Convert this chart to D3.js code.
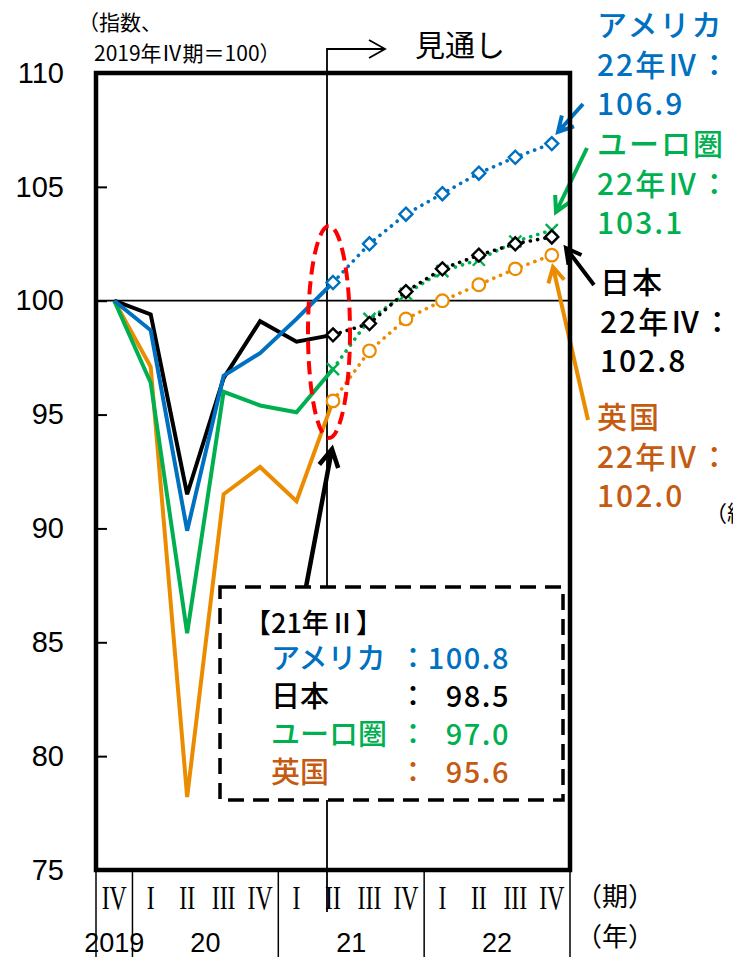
<!DOCTYPE html>
<html><head><meta charset="utf-8">
<script src="https://cdn.jsdelivr.net/npm/d3@7"></script>
<style>body{margin:0;background:#fff;overflow:hidden} svg{display:block}</style>
</head><body><svg id="c" width="733" height="957"></svg>
<script>
// ---- data ----
const quarters = ["2019Q4","2020Q1","2020Q2","2020Q3","2020Q4","2021Q1","2021Q2","2021Q3","2021Q4","2022Q1","2022Q2","2022Q3","2022Q4"];
const quarterLabels = ["IV","I","II","III","IV","I","II","III","IV","I","II","III","IV"];
const yearLabels = ["2019","20","21","22"];
const yearFirstQ = ["2019Q4","2020Q1","2021Q1","2022Q1"];
const yearLastQ  = ["2019Q4","2020Q4","2021Q4","2022Q4"];
const yTicks = [75,80,85,90,95,100,105,110];
const usa   = [100, 98.7, 89.9, 96.7, 97.7, 99.2, 100.8, 102.5, 103.8, 104.7, 105.6, 106.3, 106.9];
const japan = [100, 99.4, 91.5, 96.6, 99.1, 98.2,  98.5,  99.0, 100.4, 101.4, 102.0, 102.5, 102.8];
const euro  = [100, 96.4, 85.4, 96.0, 95.4, 95.1,  97.0,  99.2, 100.3, 101.3, 101.8, 102.6, 103.1];
const uk    = [100, 97.1, 78.2, 91.5, 92.7, 91.2,  95.6,  97.8,  99.2, 100.0, 100.7, 101.4, 102.0];
const forecastFrom = "2021Q2";
const boxTitle = "【21年Ⅱ】";
const seriesNames = ["アメリカ","日本","ユーロ圏","英国"];
const boxValues = ["100.8","98.5","97.0","95.6"];
const endLabels = [["アメリカ","22年Ⅳ：","106.9"],["ユーロ圏","22年Ⅳ：","103.1"],["日本","22年Ⅳ：","102.8"],["英国","22年Ⅳ：","102.0"]];

const C = {blue:"#0070C0", black:"#000000", green:"#00B050", orange:"#EB8C00", orangeText:"#C55A11"};
const JP = "'Noto Sans CJK JP','Noto Sans',sans-serif";

const svg = d3.select("#c");
const L=96, R=570, T=73, B=870;
const x = d3.scaleBand().domain(quarters).range([L,R]).padding(0);
const cx = q => x(q) + x.bandwidth()/2;
const y = d3.scaleLinear().domain([75,110]).range([B,T]);
const fi = quarters.indexOf(forecastFrom);

// baseline 100
svg.append("line").attr("x1",L).attr("x2",R).attr("y1",y(100)).attr("y2",y(100)).attr("stroke","#000").attr("stroke-width",1.8);

// y axis ticks + labels
const yAxis = d3.axisLeft(y).tickValues(yTicks).tickSize(-11).tickPadding(32).tickFormat(d3.format("d"));
const ya = svg.append("g").attr("transform",`translate(${L},0)`).call(yAxis);
ya.select(".domain").remove();
ya.selectAll(".tick line").attr("stroke","#000").attr("stroke-width",2);
ya.selectAll(".tick text").attr("font-family","'Liberation Sans',Arial,sans-serif").attr("font-size",29).attr("fill","#000");

// vertical forecast line with arrow
const vx = cx(forecastFrom) - 6;
svg.append("path").attr("d",`M${vx},912 V49 H385 M369,40 L385,49 L369,58`).attr("fill","none").attr("stroke","#000").attr("stroke-width",1.8);
svg.append("text").attr("x",415).attr("y",56).attr("font-family",JP).attr("font-size",30).text("見通し");

// header
svg.append("text").attr("x",78).attr("y",30).attr("font-family",JP).attr("font-size",21).text("（指数、");
svg.append("text").attr("x",94).attr("y",61).attr("font-family",JP).attr("font-size",21).text("2019年Ⅳ期＝100）");

const series = [
  {name:"uk", v:uk, c:C.orange, m:"circle"},
  {name:"euro", v:euro, c:C.green, m:"x"},
  {name:"japan", v:japan, c:C.black, m:"diamond"},
  {name:"usa", v:usa, c:C.blue, m:"diamond"}
];
const line = d3.line().x(d=>d.x).y(d=>d.y);
function pts(s, a, b){ return quarters.slice(a,b).map((q,k)=>({x:cx(q), y:y(s.v[a+k])})); }

// solid actual lines
series.forEach(s=>{
  svg.append("path").attr("d",line(pts(s,0,fi+1))).attr("fill","none").attr("stroke",s.c).attr("stroke-width",4).attr("stroke-linejoin","miter");
});
// dotted forecast lines & markers
const fOrder = [series[0], series[3], series[1], series[2]];
fOrder.forEach(s=>{
  svg.append("path").attr("d",line(pts(s,fi,quarters.length))).attr("fill","none").attr("stroke",s.c).attr("stroke-width",3.6).attr("stroke-linecap","round").attr("stroke-dasharray","0.1 7.3");
});
fOrder.forEach(s=>{
  const g = svg.append("g");
  pts(s,fi,quarters.length).forEach(p=>{
    if(s.m==="circle") g.append("circle").attr("cx",p.x).attr("cy",p.y).attr("r",6.3).attr("fill","#fff").attr("stroke",s.c).attr("stroke-width",2.2);
    else if(s.m==="diamond") g.append("path").attr("d",`M${p.x},${p.y-6.5} L${p.x+6.5},${p.y} L${p.x},${p.y+6.5} L${p.x-6.5},${p.y} Z`).attr("fill","#fff").attr("stroke",s.c).attr("stroke-width",2.4);
    else g.append("path").attr("d",`M${p.x-6},${p.y-6} L${p.x+6},${p.y+6} M${p.x-6},${p.y+6} L${p.x+6},${p.y-6}`).attr("stroke",s.c).attr("stroke-width",2.4);
  });
});

// red dashed ellipse
svg.append("ellipse").attr("cx",329).attr("cy",332).attr("rx",21).attr("ry",106).attr("fill","none").attr("stroke","#FF0000").attr("stroke-width",4).attr("stroke-dasharray","13 7");

// arrows
function arrow(x1,y1,x2,y2,col,w,h){
  const a = Math.atan2(y2-y1,x2-x1), s=0.5;
  const p1=[x2-h*Math.cos(a-s), y2-h*Math.sin(a-s)], p2=[x2-h*Math.cos(a+s), y2-h*Math.sin(a+s)];
  svg.append("path").attr("d",`M${x1},${y1} L${x2},${y2} M${p1} L${x2},${y2} L${p2}`).attr("fill","none").attr("stroke",col).attr("stroke-width",w).attr("stroke-linecap","butt");
}
arrow(306,587,332,449,"#000",4.5,20);
arrow(583,104,558,132,C.blue,4,17);
arrow(587,148,556,212,C.green,4,17);
arrow(594,285,566,248,"#000",4,17);
arrow(588,420,553,267,C.orange,4,17);

// frame
svg.append("rect").attr("x",L).attr("y",T).attr("width",R-L).attr("height",B-T).attr("fill","none").attr("stroke","#000").attr("stroke-width",4.5);

// dashed info box
svg.append("rect").attr("x",220).attr("y",587).attr("width",343).attr("height",213).attr("fill","#fff").attr("stroke","#000").attr("stroke-width",3.5).attr("stroke-dasharray","16 9");
svg.append("text").attr("x",244).attr("y",633).attr("font-family",JP).attr("font-size",27).attr("font-weight",500).text(boxTitle);
const boxCols = [C.blue, C.black, C.green, C.orangeText];
seriesNames.forEach((n,i)=>{
  const by = 669 + i*38;
  svg.append("text").attr("x",271).attr("y",by).attr("font-family",JP).attr("font-size",29).attr("font-weight",500).attr("fill",boxCols[i]).text(n);
  svg.append("text").attr("x",413).attr("y",by).attr("text-anchor","middle").attr("font-family",JP).attr("font-size",29).attr("font-weight",500).attr("fill",boxCols[i]).text("：");
  svg.append("text").attr("x",510).attr("y",by).attr("text-anchor","end").attr("font-family",JP).attr("font-size",29).attr("font-weight",500).attr("fill",boxCols[i]).attr("letter-spacing",1.5).text(boxValues[i]);
});

// right-side end labels
const endCols = [C.blue, C.green, C.black, C.orangeText];
const endX = [597,597,600,597];
const endY = [36,155,293,428];
endLabels.forEach((ls,i)=>{
  ls.forEach((t,k)=>{
    svg.append("text").attr("x",endX[i]).attr("y",endY[i]+k*39.5).attr("font-family",JP).attr("font-size",30).attr("font-weight",500).attr("fill",endCols[i]).attr("letter-spacing",2).text(t);
  });
});
svg.append("text").attr("x",705).attr("y",521).attr("font-family",JP).attr("font-size",22).text("（約");

// bottom axis: dividers
const divs = [x(quarters[0]), ...yearLastQ.map(q=>x(q)+x.bandwidth())];
divs.forEach(d=>svg.append("line").attr("x1",d).attr("x2",d).attr("y1",B).attr("y2",957).attr("stroke","#000").attr("stroke-width",1.5));
quarters.forEach((q,i)=>{
  svg.append("text").attr("transform",`translate(${cx(q)},909) scale(0.7,1)`).attr("text-anchor","middle").attr("font-family","'Liberation Serif','Times New Roman',serif").attr("font-size",34).text(quarterLabels[i]);
});
yearLabels.forEach((t,i)=>{
  const xm = (x(yearFirstQ[i]) + x(yearLastQ[i]) + x.bandwidth())/2;
  svg.append("text").attr("x",xm).attr("y",952).attr("text-anchor","middle").attr("font-family","'Liberation Sans',Arial,sans-serif").attr("font-size",27).text(t);
});
svg.append("text").attr("x",576).attr("y",906).attr("font-family",JP).attr("font-size",26).text("（期）");
svg.append("text").attr("x",576).attr("y",946).attr("font-family",JP).attr("font-size",26).text("（年）");
</script></body></html>
